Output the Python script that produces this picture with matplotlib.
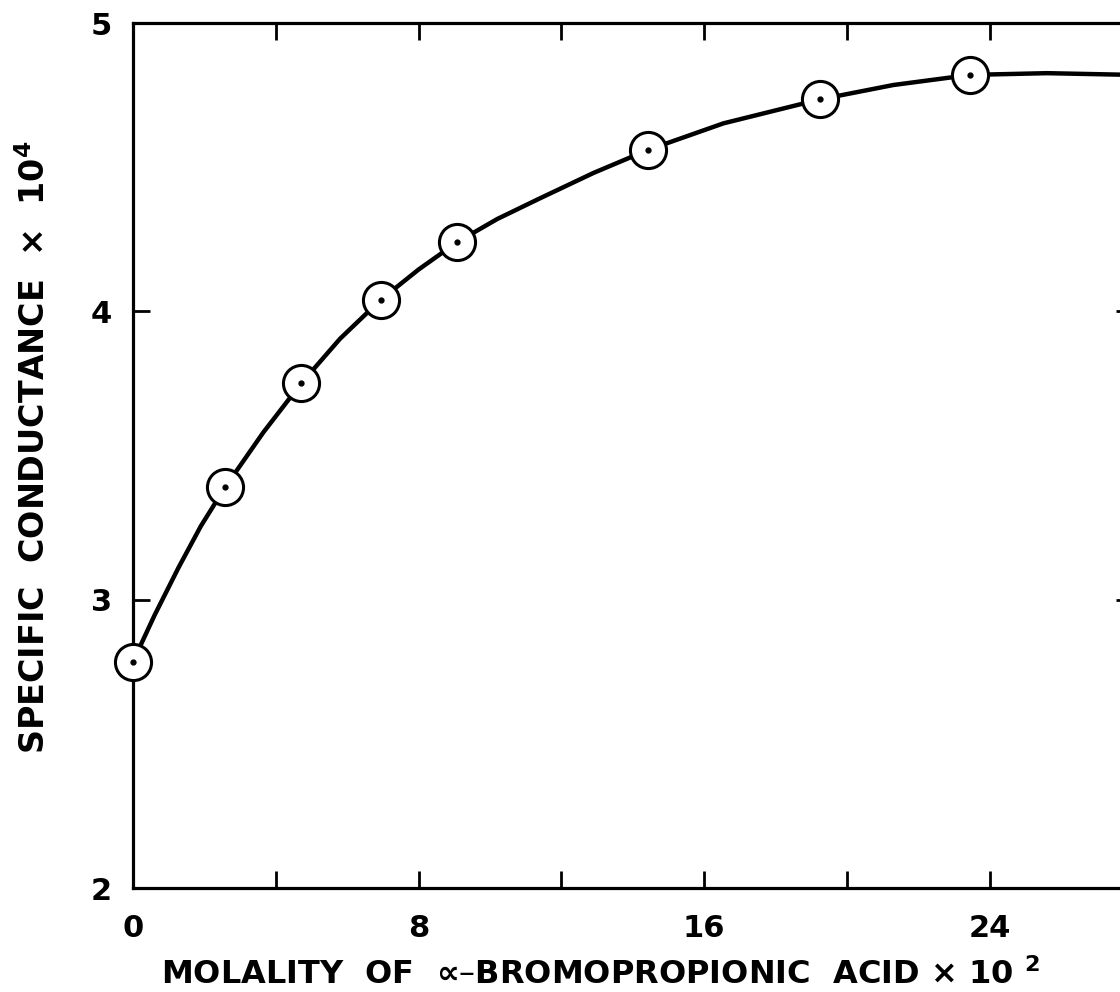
import numpy as np
import matplotlib
matplotlib.use('Agg')
import matplotlib.pyplot as plt
from matplotlib.ticker import MultipleLocator

# measured points (molality x 10^2, specific conductance x 10^4)
molality = [0, 2.58, 4.71, 6.94, 9.08, 14.43, 19.24, 23.45]
conductance = [2.785, 3.39, 3.75, 4.04, 4.24, 4.56, 4.735, 4.82]

# smooth curve
curve_x = [0, 0.6, 1.27, 1.9, 2.58, 3.65, 4.71, 5.8, 6.94, 8.0, 9.08,
           10.2, 11.4, 12.9, 14.43, 16.54, 19.24, 21.3, 23.45, 25.6, 28.0]
curve_y = [2.785, 2.945, 3.11, 3.255, 3.39, 3.58, 3.75, 3.905, 4.04, 4.145, 4.24,
           4.32, 4.392, 4.48, 4.56, 4.652, 4.735, 4.785, 4.82, 4.826, 4.82]

xticks = [0, 8, 16, 24]
yticks = [2, 3, 4, 5]

plt.rcParams['font.family'] = ['DejaVu Sans']
plt.rcParams['mathtext.fontset'] = 'dejavusans'
plt.rcParams['mathtext.default'] = 'bf'

fig = plt.figure(figsize=(11.2, 9.92), dpi=100)
W, H = 1120.0, 992.0
left, right, top, bottom = 133, 1133, 23, 888
ax = fig.add_axes([left / W, 1 - bottom / H, (right - left) / W, (bottom - top) / H])

ax.plot(curve_x, curve_y, color='black', lw=3.2, solid_capstyle='round',
        solid_joinstyle='round', zorder=2, clip_on=False)
ax.plot(molality, conductance, 'o', ms=26, mfc='white', mec='black', mew=2.2,
        zorder=3, clip_on=False)
ax.plot(molality, conductance, 'o', ms=3.5, color='black', zorder=4, clip_on=False)

ax.set_xlim(0, (right - left) / 35.7)
ax.set_ylim(2, 5)
ax.xaxis.set_major_locator(MultipleLocator(8))
ax.xaxis.set_minor_locator(MultipleLocator(4))
ax.set_yticks(yticks)
ax.set_xticks(xticks)

for s in ax.spines.values():
    s.set_linewidth(2.3)
ax.tick_params(which='both', direction='in', top=True, right=True,
               length=12, width=2.0, labelsize=22, pad=19)
ax.tick_params(axis='y', pad=15)
for lab in ax.get_xticklabels() + ax.get_yticklabels():
    lab.set_fontweight('bold')

fig.text(600 / W, 1 - 975 / H, 'MOLALITY  OF  \u221d\u2013BROMOPROPIONIC  ACID \u00d7 10 $^{2}$',
         ha='center', va='center', fontsize=23, fontweight='bold')
fig.text(35 / W, 1 - 447 / H, 'SPECIFIC  CONDUCTANCE  \u00d7  10$^{4}$',
         ha='center', va='center', rotation=90, fontsize=24, fontweight='bold')

fig.savefig('out.png', dpi=100)
